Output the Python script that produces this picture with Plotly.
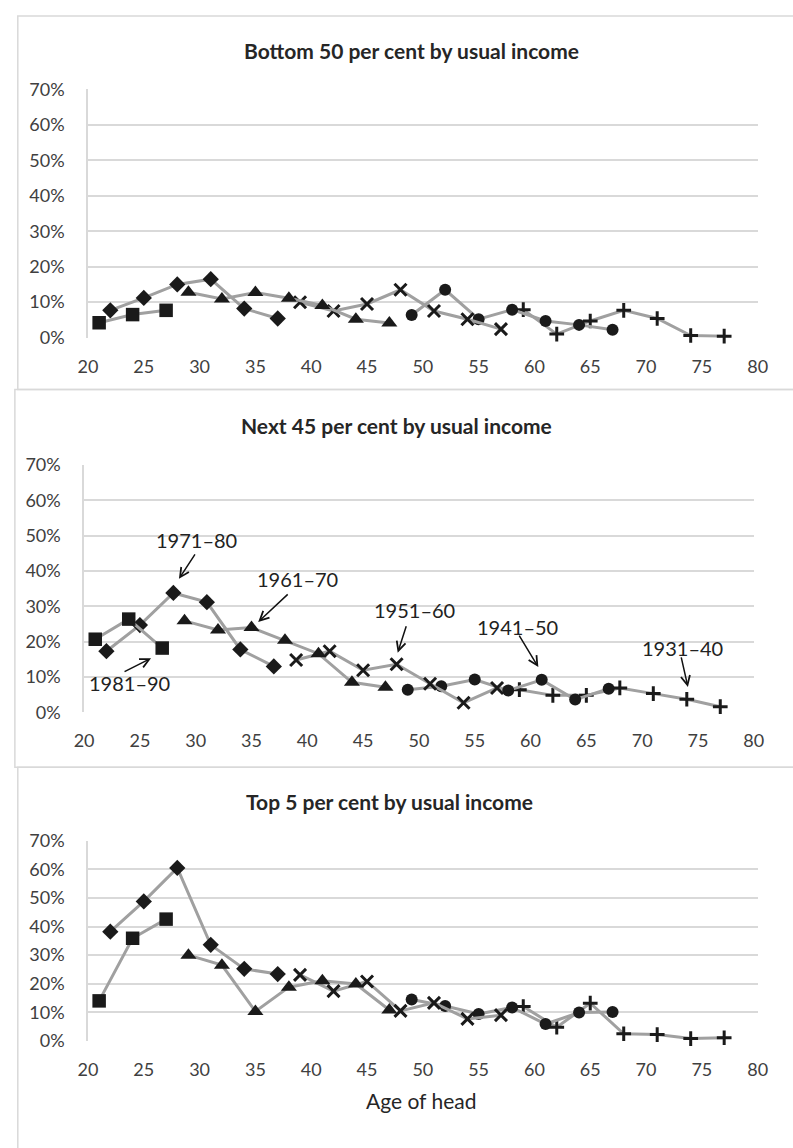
import plotly.graph_objects as go
import numpy as np

W, H = 793, 1148

# ---------------- data ----------------
cohorts = ["1981–90", "1971–80", "1961–70", "1951–60", "1941–50", "1931–40"]
ages = {
    "1981–90": [21, 24, 27],
    "1971–80": [22, 25, 28, 31, 34, 37],
    "1961–70": [29, 32, 35, 38, 41, 44, 47],
    "1951–60": [39, 42, 45, 48, 51, 54, 57],
    "1941–50": [49, 52, 55, 58, 61, 64, 67],
    "1931–40": [59, 62, 65, 68, 71, 74, 77],
}
# Bottom 50 per cent (percent)
bottom50 = {
    "1981–90": [4.2, 6.5, 7.7],
    "1971–80": [7.7, 11.2, 15.0, 16.5, 8.2, 5.4],
    "1961–70": [12.8, 10.9, 12.7, 11.1, 9.1, 5.2, 4.1],
    "1951–60": [10.0, 7.5, 9.5, 13.5, 7.5, 5.2, 2.4],
    "1941–50": [6.4, 13.5, 5.2, 7.9, 4.7, 3.6, 2.2],
    "1931–40": [7.9, 1.0, 4.7, 7.7, 5.4, 0.6, 0.4],
}
# Next 45 per cent
next45 = {
    "1981–90": [20.7, 26.4, 18.2],
    "1971–80": [17.3, 24.7, 33.8, 31.2, 17.8, 13.0],
    "1961–70": [25.9, 23.3, 24.0, 20.4, 16.6, 8.5, 7.1],
    "1951–60": [14.8, 17.3, 11.9, 13.6, 8.1, 2.7, 6.9],
    "1941–50": [6.4, 7.4, 9.3, 6.2, 9.2, 3.6, 6.7],
    "1931–40": [6.4, 4.8, 4.8, 6.9, 5.3, 3.7, 1.6],
}
# Top 5 per cent
top5 = {
    "1981–90": [14.0, 35.9, 42.6],
    "1971–80": [38.2, 48.8, 60.5, 33.6, 25.2, 23.4],
    "1961–70": [30.0, 26.5, 10.3, 18.8, 21.0, 19.9, 10.8],
    "1951–60": [23.1, 17.4, 20.8, 10.5, 13.3, 7.7, 9.0],
    "1941–50": [14.5, 12.2, 9.4, 11.7, 5.9, 9.9, 10.1],
    "1931–40": [12.0, 4.8, 13.2, 2.5, 2.2, 0.8, 1.1],
}
panel_titles = ["Bottom 50 per cent by usual income",
                "Next 45 per cent by usual income",
                "Top 5 per cent by usual income"]
x_ticks = [20, 25, 30, 35, 40, 45, 50, 55, 60, 65, 70, 75, 80]
y_ticks = [0, 10, 20, 30, 40, 50, 60, 70]

# cohort label annotations (middle panel): label position, arrow tip, arrow tail offset (px)
label_pos = {
    "1971–80": (30.1, 48.9), "1961–70": (39.1, 37.8), "1981–90": (24.1, 8.3),
    "1951–60": (49.6, 28.9), "1941–50": (58.8, 24.2), "1931–40": (73.6, 18.3),
}
arrow_tip = {
    "1971–80": (28.5, 37.8), "1961–70": (35.6, 25.6), "1981–90": (26.0, 15.3),
    "1951–60": (48.1, 16.9), "1941–50": (60.7, 12.8), "1931–40": (74.1, 7.2),
}
arrow_off = {
    "1971–80": (17, -26), "1961–70": (31, -29), "1981–90": (-28, 14),
    "1951–60": (9, -28), "1941–50": (-20, -33), "1931–40": (-7, -31),
}

# ---------------- styles ----------------
marker_style = {
    "1981–90": dict(symbol="square", size=13.5, color="#1a1a1a"),
    "1971–80": dict(symbol="diamond", size=12.5, color="#1a1a1a"),
    "1961–70": dict(symbol="triangle-up", size=14, color="#1a1a1a"),
    "1951–60": dict(symbol="x-thin", size=12, color="#1a1a1a",
                    line=dict(color="#1a1a1a", width=3)),
    "1941–50": dict(symbol="circle", size=12, color="#1a1a1a"),
    "1931–40": dict(symbol="cross-thin", size=10.5, color="#1a1a1a",
                    line=dict(color="#1a1a1a", width=3)),
}
LINE_COLOR = "#a0a0a0"
GRID = "#d9d9d9"
FONT = "Lato"
TICK_COLOR = "#404040"


def px(x):
    return x / W


def py(y):
    return 1 - y / H


# plot-area boxes in page pixels: (left, right, top, bottom)
boxes = [(80, 767, 79, 332), (76, 763, 462, 714), (80, 767, 845, 1049)]
title_pos = [(412, 39), (396, 422), (389, 805)]
panels = [bottom50, next45, top5]

fig = go.Figure()

for i, data in enumerate(panels):
    ax_sfx = "" if i == 0 else str(i + 1)
    for c in reversed(cohorts):
        fig.add_trace(go.Scatter(
            x=ages[c], y=np.array(data[c]) / 100.0,
            mode="lines+markers", name=c, showlegend=False,
            line=dict(color=LINE_COLOR, width=3),
            marker=marker_style[c], cliponaxis=False,
            xaxis="x" + ax_sfx, yaxis="y" + ax_sfx,
        ))

layout = dict(
    width=W, height=H, margin=dict(l=0, r=0, t=0, b=0),
    paper_bgcolor="white", plot_bgcolor="rgba(0,0,0,0)",
    font=dict(family=FONT, color=TICK_COLOR, size=18),
    showlegend=False,
)
for i, (l, r, t, b) in enumerate(boxes):
    sfx = "" if i == 0 else str(i + 1)
    layout["xaxis" + sfx] = dict(
        domain=[px(l), px(r)], anchor="y" + sfx, range=[20, 80],
        tickvals=x_ticks, ticktext=[str(v) for v in x_ticks],
        showgrid=False, zeroline=False, showline=False, ticks="",
        ticklabelstandoff=16, tickfont=dict(size=18, color=TICK_COLOR, family=FONT),
    )
    layout["yaxis" + sfx] = dict(
        domain=[py(b), py(t)], anchor="x" + sfx, range=[0, 0.7],
        tickvals=[v / 100 for v in y_ticks], ticktext=[f"{v}%" for v in y_ticks],
        showgrid=True, gridcolor=GRID, gridwidth=1.5, zeroline=False,
        showline=True, linecolor=GRID, linewidth=1.5, ticks="",
        ticklabelstandoff=18, tickfont=dict(size=18, color=TICK_COLOR, family=FONT),
    )
fig.update_layout(**layout)

# panel frames (page pixels)
frames = [(8, 4, 810, 385), (5, 385, 810, 770), (8, 770, 810, 1170)]
for (x0, y0, x1, y1) in frames:
    fig.add_shape(type="rect", xref="paper", yref="paper",
                  x0=px(x0), x1=px(x1), y0=py(y1), y1=py(y0),
                  line=dict(color=GRID, width=1.5), fillcolor="rgba(0,0,0,0)",
                  layer="below")

# titles
for (tx, ty), txt in zip(title_pos, panel_titles):
    fig.add_annotation(x=px(tx), y=py(ty), xref="paper", yref="paper",
                       text=f"<b>{txt}</b>", showarrow=False,
                       font=dict(family=FONT, size=21, color="#262626"),
                       xanchor="center", yanchor="middle")

# x axis title
fig.add_annotation(x=px(422), y=py(1110), xref="paper", yref="paper",
                   text="Age of head", showarrow=False,
                   font=dict(family=FONT, size=21, color="#262626"),
                   xanchor="center", yanchor="middle")

# cohort labels and arrows in the middle panel
for c in cohorts:
    lx, ly = label_pos[c]
    fig.add_annotation(x=lx, y=ly / 100, xref="x2", yref="y2", text=c,
                       showarrow=False, font=dict(family=FONT, size=20, color="#222222"),
                       xanchor="center", yanchor="middle")
    tx, ty = arrow_tip[c]
    dx, dy = arrow_off[c]
    fig.add_annotation(x=tx, y=ty / 100, xref="x2", yref="y2", text="",
                       showarrow=True, ax=dx, ay=dy, arrowhead=5, arrowsize=1.2,
                       arrowwidth=1.5, arrowcolor="#111111", standoff=0)

fig.write_html("out.html")
